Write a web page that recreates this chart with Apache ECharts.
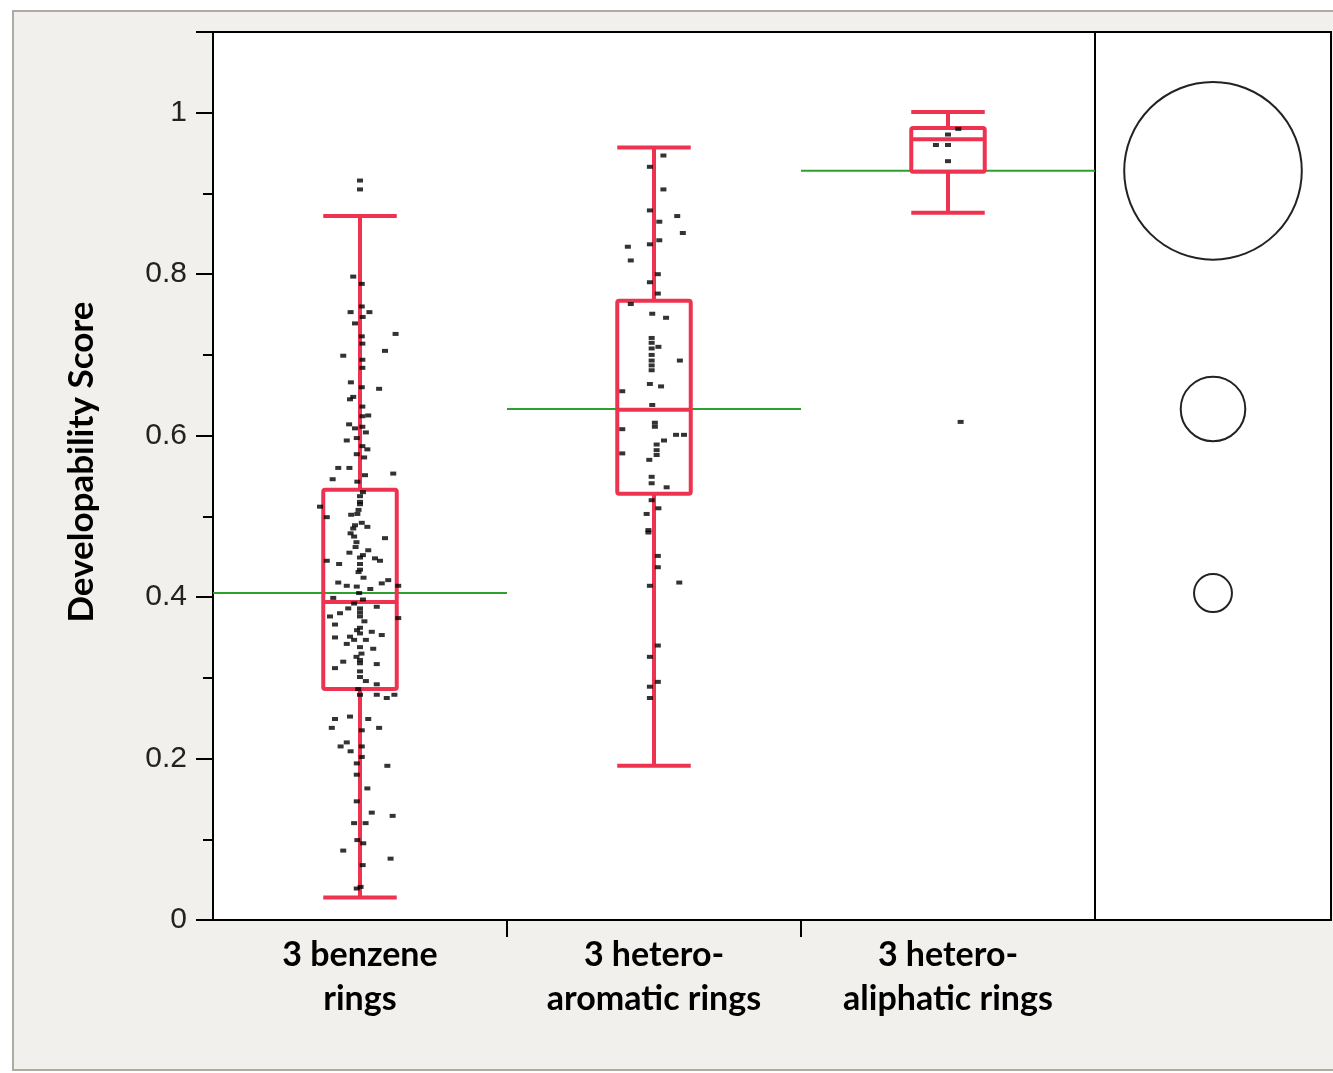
<!DOCTYPE html>
<html>
<head>
<meta charset="utf-8">
<script src="https://cdn.jsdelivr.net/npm/echarts@6/dist/echarts.min.js"></script>
<style>
html,body{margin:0;padding:0;background:#fff;}
#chart{width:1333px;height:1073px;}
</style>
</head>
<body>
<div id="chart"></div>
<script>
// ---- data ----
const categories = ['3 benzene\nrings', '3 hetero-\naromatic rings', '3 hetero-\naliphatic rings'];
const yTickValues = [0, 0.2, 0.4, 0.6, 0.8, 1];

// box plot statistics per category
const whiskerLow  = [0.028, 0.191, 0.876];
const quartile1   = [0.286, 0.528, 0.927];
const medians     = [0.394, 0.632, 0.967];
const quartile3   = [0.533, 0.767, 0.981];
const whiskerHigh = [0.872, 0.957, 1.001];
const means       = [0.405, 0.633, 0.928];
// comparison circle radii (in score units)
const circleRadius = [0.0235, 0.040, 0.110];

// jittered points: [offset within category, score]
const benzenePts = [
  [0.000,0.916],[0.000,0.905],[-0.023,0.797],[0.006,0.788],[-0.032,0.753],[0.006,0.760],[0.032,0.753],
  [-0.017,0.739],[0.009,0.747],[0.121,0.726],[0.006,0.723],[0.085,0.705],[-0.057,0.699],[0.008,0.714],
  [0.008,0.694],[0.008,0.684],[-0.031,0.666],[0.006,0.660],[0.065,0.658],[-0.034,0.645],[-0.023,0.648],
  [0.008,0.636],[0.028,0.625],[0.008,0.624],[-0.037,0.614],[-0.017,0.609],[0.020,0.604],[0.008,0.611],
  [-0.045,0.594],[-0.011,0.597],[0.025,0.583],[0.008,0.587],[-0.011,0.577],[0.014,0.573],[-0.074,0.560],
  [-0.036,0.560],[0.113,0.553],[0.017,0.551],[-0.093,0.546],[-0.009,0.543],[0.000,0.525],[0.000,0.518],
  [-0.136,0.512],[-0.009,0.503],[-0.113,0.499],[0.006,0.492],[-0.023,0.485],[-0.032,0.479],[0.085,0.473],
  [0.000,0.515],[-0.005,0.508],[-0.017,0.489],[-0.020,0.475],[-0.012,0.468],[0.010,0.530],[-0.030,0.502],
  [0.025,0.487],[-0.015,0.462],[0.010,0.452],[-0.036,0.455],[0.028,0.458],[0.000,0.449],[0.000,0.441],
  [0.000,0.434],[-0.113,0.445],[-0.071,0.441],[0.051,0.448],[0.068,0.445],[-0.005,0.431],[0.012,0.424],
  [0.096,0.421],[0.074,0.417],[-0.074,0.418],[-0.045,0.414],[-0.011,0.413],[-0.003,0.405],[0.010,0.397],
  [0.035,0.410],[0.130,0.414],[-0.091,0.399],[-0.020,0.392],[0.057,0.388],[0.000,0.386],[0.000,0.381],
  [0.000,0.376],[-0.068,0.380],[-0.040,0.386],[-0.102,0.376],[0.130,0.374],[0.015,0.370],[-0.085,0.366],
  [0.000,0.362],[-0.010,0.359],[0.040,0.357],[0.000,0.355],[0.020,0.347],[-0.020,0.347],[0.000,0.338],
  [0.074,0.353],[-0.085,0.350],[-0.034,0.351],[-0.045,0.342],[0.045,0.336],[0.005,0.330],[-0.012,0.326],
  [0.000,0.322],[0.000,0.318],[-0.057,0.320],[-0.085,0.312],[0.057,0.317],[0.000,0.308],[0.000,0.301],
  [0.020,0.296],[0.057,0.292],[-0.006,0.286],[0.057,0.279],[0.091,0.275],[0.117,0.279],[0.000,0.279],
  [-0.085,0.249],[-0.034,0.252],[0.028,0.249],[-0.096,0.238],[0.065,0.238],[0.006,0.235],[-0.045,0.220],
  [-0.066,0.215],[0.006,0.215],[-0.032,0.209],[0.006,0.202],[-0.011,0.194],[0.093,0.191],[-0.011,0.180],
  [0.025,0.163],[-0.011,0.147],[0.040,0.133],[0.111,0.129],[-0.020,0.120],[0.019,0.120],[-0.009,0.099],
  [0.011,0.095],[-0.057,0.086],[0.104,0.076],[0.009,0.068],[-0.011,0.039],[0.002,0.041]
];
const aromaticPts = [
  [0.032,0.947],[-0.014,0.933],[0.032,0.905],[-0.014,0.879],[0.079,0.872],[0.018,0.865],[0.098,0.851],
  [-0.014,0.837],[0.018,0.842],[-0.089,0.834],[-0.079,0.817],[0.013,0.800],[-0.014,0.790],[0.013,0.776],
  [-0.079,0.763],[-0.006,0.751],[0.041,0.746],[-0.008,0.721],[-0.008,0.715],[-0.008,0.708],[-0.008,0.700],
  [-0.008,0.693],[-0.008,0.687],[-0.008,0.681],[0.015,0.710],[0.088,0.693],[-0.108,0.655],[-0.014,0.664],
  [0.024,0.661],[-0.006,0.638],[0.003,0.616],[0.003,0.611],[-0.108,0.608],[0.075,0.601],[0.102,0.601],
  [0.034,0.594],[0.009,0.589],[0.009,0.582],[0.009,0.576],[-0.108,0.578],[-0.016,0.570],[-0.008,0.549],
  [-0.008,0.541],[0.043,0.536],[-0.008,0.520],[0.015,0.510],[-0.025,0.503],[-0.019,0.483],[-0.019,0.480],
  [0.013,0.451],[0.013,0.437],[-0.014,0.414],[0.086,0.418],[0.013,0.340],[-0.014,0.326],[0.013,0.295],
  [-0.014,0.289],[-0.014,0.275]
];
const aliphaticPts = [
  [0.035,0.980],[0.000,0.973],[-0.041,0.960],[0.000,0.960],[0.000,0.940],[0.043,0.617]
];

// ---- build ----
const RED = '#ee3350';
const GREEN = '#2ea02e';
const pointGroups = [benzenePts, aromaticPts, aliphaticPts];
const scatterData = [];
pointGroups.forEach((g, i) => g.forEach(p => scatterData.push([i + p[0], p[1]])));
const boxData = categories.map((c, i) => [i, whiskerLow[i], quartile1[i], medians[i], quartile3[i], whiskerHigh[i]]);
const meanData = means.map((m, i) => [i, m]);
const circleData = means.map((m, i) => [0.5, m, circleRadius[i]]);

const chart = echarts.init(document.getElementById('chart'));
chart.setOption({
  backgroundColor: '#ffffff',
  animation: false,
  graphic: [{
    type: 'rect', z: -100, silent: true,
    shape: { x: 13, y: 11, width: 1330, height: 1059 },
    style: { fill: '#f1f0ed', stroke: '#aeaba2', lineWidth: 2 }
  }],
  grid: [
    { left: 213, top: 32, width: 882, height: 888, show: true, backgroundColor: '#ffffff', borderColor: '#000', borderWidth: 2 },
    { left: 1095, top: 32, width: 236, height: 888, show: true, backgroundColor: '#ffffff', borderColor: '#000', borderWidth: 2 }
  ],
  xAxis: [
    {
      gridIndex: 0, type: 'value', min: -0.5, max: 2.5, interval: 1,
      axisLine: { show: true, onZero: false, lineStyle: { color: '#000', width: 2 } },
      axisTick: { show: true, customValues: [0.5, 1.5], length: 17, lineStyle: { color: '#000', width: 2 } },
      axisLabel: {
        customValues: [0, 1, 2],
        formatter: v => categories[Math.round(v)],
        fontFamily: 'Lato', fontWeight: 'bold', fontSize: 34, color: '#000',
        lineHeight: 44, margin: 13
      },
      splitLine: { show: false }
    },
    { gridIndex: 1, type: 'value', min: 0, max: 1, show: false }
  ],
  yAxis: [
    {
      gridIndex: 0, type: 'value', min: 0, max: 1.1, interval: 0.2,
      name: 'Developability Score', nameLocation: 'middle', nameGap: 114,
      nameTextStyle: { fontFamily: 'Lato', fontWeight: 'bold', fontSize: 35, color: '#000', padding: [0, 0, 0, 28] },
      axisLine: { show: true, onZero: false, lineStyle: { color: '#000', width: 2 } },
      axisTick: { show: true, length: 17, lineStyle: { color: '#000', width: 2 } },
      minorTick: { show: true, splitNumber: 2, length: 10, lineStyle: { color: '#000', width: 2 } },
      axisLabel: {
        showMaxLabel: false,
        formatter: v => (yTickValues.indexOf(Math.round(v * 10) / 10) >= 0 ? String(Math.round(v * 10) / 10) : ''),
        fontFamily: 'Liberation Sans', fontSize: 30, color: '#222', margin: 26
      },
      splitLine: { show: false }, minorSplitLine: { show: false }
    },
    { gridIndex: 1, type: 'value', min: 0, max: 1.1, show: false }
  ],
  series: [
    {
      type: 'custom', xAxisIndex: 0, yAxisIndex: 0, data: meanData, z: 2,
      renderItem: (params, api) => {
        const a = api.coord([api.value(0) - 0.5, api.value(1)]);
        const b = api.coord([api.value(0) + 0.5, api.value(1)]);
        return { type: 'line', shape: { x1: a[0], y1: a[1], x2: b[0], y2: b[1] }, style: { stroke: GREEN, lineWidth: 2 } };
      }
    },
    {
      type: 'custom', xAxisIndex: 0, yAxisIndex: 0, data: boxData, z: 3,
      renderItem: (params, api) => {
        const x = api.value(0);
        const lo = api.coord([x, api.value(1)]);
        const q1 = api.coord([x, api.value(2)]);
        const md = api.coord([x, api.value(3)]);
        const q3 = api.coord([x, api.value(4)]);
        const hi = api.coord([x, api.value(5)]);
        const hw = api.size([0.25, 0])[0] / 2;
        const st = { stroke: RED, lineWidth: 4, fill: null };
        const cx = lo[0];
        return {
          type: 'group',
          children: [
            { type: 'line', shape: { x1: cx, y1: lo[1], x2: cx, y2: q1[1] }, style: st },
            { type: 'line', shape: { x1: cx, y1: q3[1], x2: cx, y2: hi[1] }, style: st },
            { type: 'line', shape: { x1: cx - hw, y1: lo[1], x2: cx + hw, y2: lo[1] }, style: st },
            { type: 'line', shape: { x1: cx - hw, y1: hi[1], x2: cx + hw, y2: hi[1] }, style: st },
            { type: 'rect', shape: { x: cx - hw, y: q3[1], width: hw * 2, height: q1[1] - q3[1], r: 2 }, style: st },
            { type: 'line', shape: { x1: cx - hw, y1: md[1], x2: cx + hw, y2: md[1] }, style: st }
          ]
        };
      }
    },
    {
      type: 'scatter', xAxisIndex: 0, yAxisIndex: 0, data: scatterData, z: 4,
      symbol: 'rect', symbolSize: [6, 4], itemStyle: { color: '#000' }
    },
    {
      type: 'custom', xAxisIndex: 1, yAxisIndex: 1, data: circleData, z: 3,
      renderItem: (params, api) => {
        const c = api.coord([api.value(0), api.value(1)]);
        const r = api.size([0, api.value(2)])[1];
        return { type: 'circle', shape: { cx: c[0], cy: c[1], r: r }, style: { stroke: '#222', lineWidth: 2, fill: null } };
      }
    }
  ]
});
</script>
</body>
</html>
